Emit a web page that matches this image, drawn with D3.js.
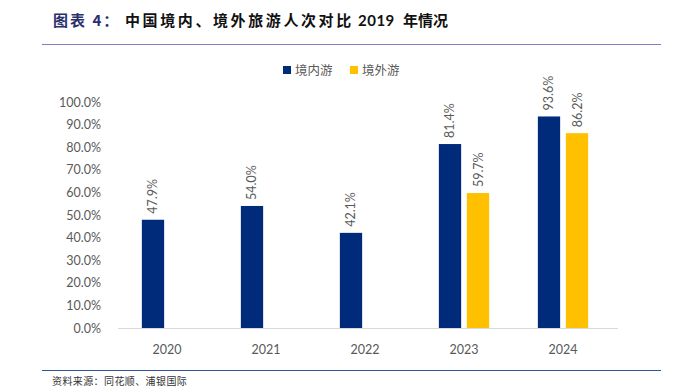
<!DOCTYPE html>
<html>
<head>
<meta charset="utf-8">
<script src="https://cdn.jsdelivr.net/npm/d3@7"></script>
<style>
  body { margin: 0; background: #fff; }
  svg text { font-family: Lato, "Noto Sans CJK SC", sans-serif; }
</style>
</head>
<body>
<div id="chart"></div>
<script>
// data
let years = ["2020", "2021", "2022", "2023", "2024"];
let seriesNames = ["境内游", "境外游"];
let domestic = [47.9, 54.0, 42.1, 81.4, 93.6];
let outbound = [null, null, null, 59.7, 86.2];
let yTicks = [0, 10, 20, 30, 40, 50, 60, 70, 80, 90, 100];

let colors = ["#002B7A", "#FFC000"];

let width = 683, height = 391;
let margin = {left: 118, right: 65, top: 102, bottom: 63};

let svg = d3.select("#chart").append("svg")
  .attr("width", width)
  .attr("height", height);

// title pieces: [text, x, colour, letter-spacing, font]
let titleParts = [
  ["图表 4：", 53, "#2B2F6E", 2, "'Noto Sans CJK SC', sans-serif"],
  ["中国境内、境外旅游人次对比", 125, "#111", 2.6, "'Noto Sans CJK SC', sans-serif"],
  ["2019", 358, "#111", 0.5, "Lato, sans-serif"],
  ["年情况", 403, "#111", 0, "'Noto Sans CJK SC', sans-serif"]
];
titleParts.forEach(p => {
  svg.append("text")
    .attr("x", p[1])
    .attr("y", 26)
    .attr("fill", p[2])
    .style("font-family", p[4])
    .style("font-weight", "bold")
    .style("font-size", "15px")
    .style("letter-spacing", p[3] + "px")
    .text(p[0]);
});

// rules
svg.append("line")
  .attr("x1", 42).attr("x2", 661).attr("y1", 44.5).attr("y2", 44.5)
  .attr("stroke", "#8080C0").attr("stroke-width", 1);
svg.append("line")
  .attr("x1", 42).attr("x2", 661).attr("y1", 370.5).attr("y2", 370.5)
  .attr("stroke", "#2F5597").attr("stroke-width", 1);

// source
svg.append("text")
  .attr("x", 52)
  .attr("y", 385)
  .style("font-family", "'Noto Sans CJK SC', sans-serif")
  .style("font-size", "10px")
  .style("letter-spacing", "0.4px")
  .attr("fill", "#333")
  .text("资料来源：同花顺、浦银国际");

// scales
let x0 = d3.scaleBand()
  .domain(years)
  .range([117.5, 612.5])
  .paddingInner(0.492)
  .paddingOuter(0.246);

let x1 = d3.scaleBand()
  .domain(seriesNames)
  .range([0, x0.bandwidth()])
  .paddingInner(0.204);

let y = d3.scaleLinear()
  .domain([0, 100])
  .range([height - margin.bottom, margin.top]);

// y axis labels
let yAxis = svg.append("g")
  .attr("transform", "translate(" + (margin.left - 14) + ",0)")
  .call(d3.axisLeft(y).tickValues(yTicks).tickSize(0).tickFormat(d => d.toFixed(1) + "%"));
yAxis.select(".domain").remove();
yAxis.selectAll("text")
  .attr("fill", "#595959")
  .style("font-size", "12.5px");

// baseline
svg.append("line")
  .attr("x1", margin.left).attr("x2", width - margin.right)
  .attr("y1", y(0) + 0.5).attr("y2", y(0) + 0.5)
  .attr("stroke", "#D9D9D9");

// x axis labels
let xAxis = svg.append("g")
  .attr("transform", "translate(0," + (y(0) + 14) + ")")
  .call(d3.axisBottom(x0).tickSize(0));
xAxis.select(".domain").remove();
xAxis.selectAll("text")
  .attr("fill", "#595959")
  .style("font-size", "12.5px");

// bars
let rows = years.map((yr, i) => ({year: yr, values: [domestic[i], outbound[i]]}));

let groups = svg.selectAll("g.grp")
  .data(rows)
  .enter().append("g")
  .attr("class", "grp")
  .attr("transform", d => "translate(" + x0(d.year) + ",0)");

let cells = groups.selectAll("g.cell")
  .data(d => d.values.map((v, j) => ({name: seriesNames[j], value: v, j: j})).filter(c => c.value != null))
  .enter().append("g")
  .attr("class", "cell");

cells.append("rect")
  .attr("x", d => x1(d.name))
  .attr("y", d => y(d.value))
  .attr("width", x1.bandwidth())
  .attr("height", d => y(0) - y(d.value))
  .attr("fill", d => colors[d.j]);

cells.append("text")
  .attr("transform", d => "translate(" + (x1(d.name) + x1.bandwidth() / 2 + 4.5) + "," + (y(d.value) - 6) + ") rotate(-90)")
  .attr("text-anchor", "start")
  .attr("fill", "#595959")
  .style("font-size", "12.5px")
  .text(d => d.value.toFixed(1) + "%");

// legend
let legend = svg.append("g").attr("transform", "translate(283,64)");
seriesNames.forEach((name, j) => {
  let g = legend.append("g").attr("transform", "translate(" + (j * 67) + ",0)");
  g.append("rect").attr("width", 8).attr("height", 8).attr("y", 2).attr("fill", colors[j]);
  g.append("text")
    .attr("x", 12).attr("y", 10.5)
    .attr("fill", "#595959")
    .style("font-family", "'Noto Sans CJK SC', sans-serif")
    .style("font-size", "12.5px")
    .text(name);
});
</script>
</body>
</html>
